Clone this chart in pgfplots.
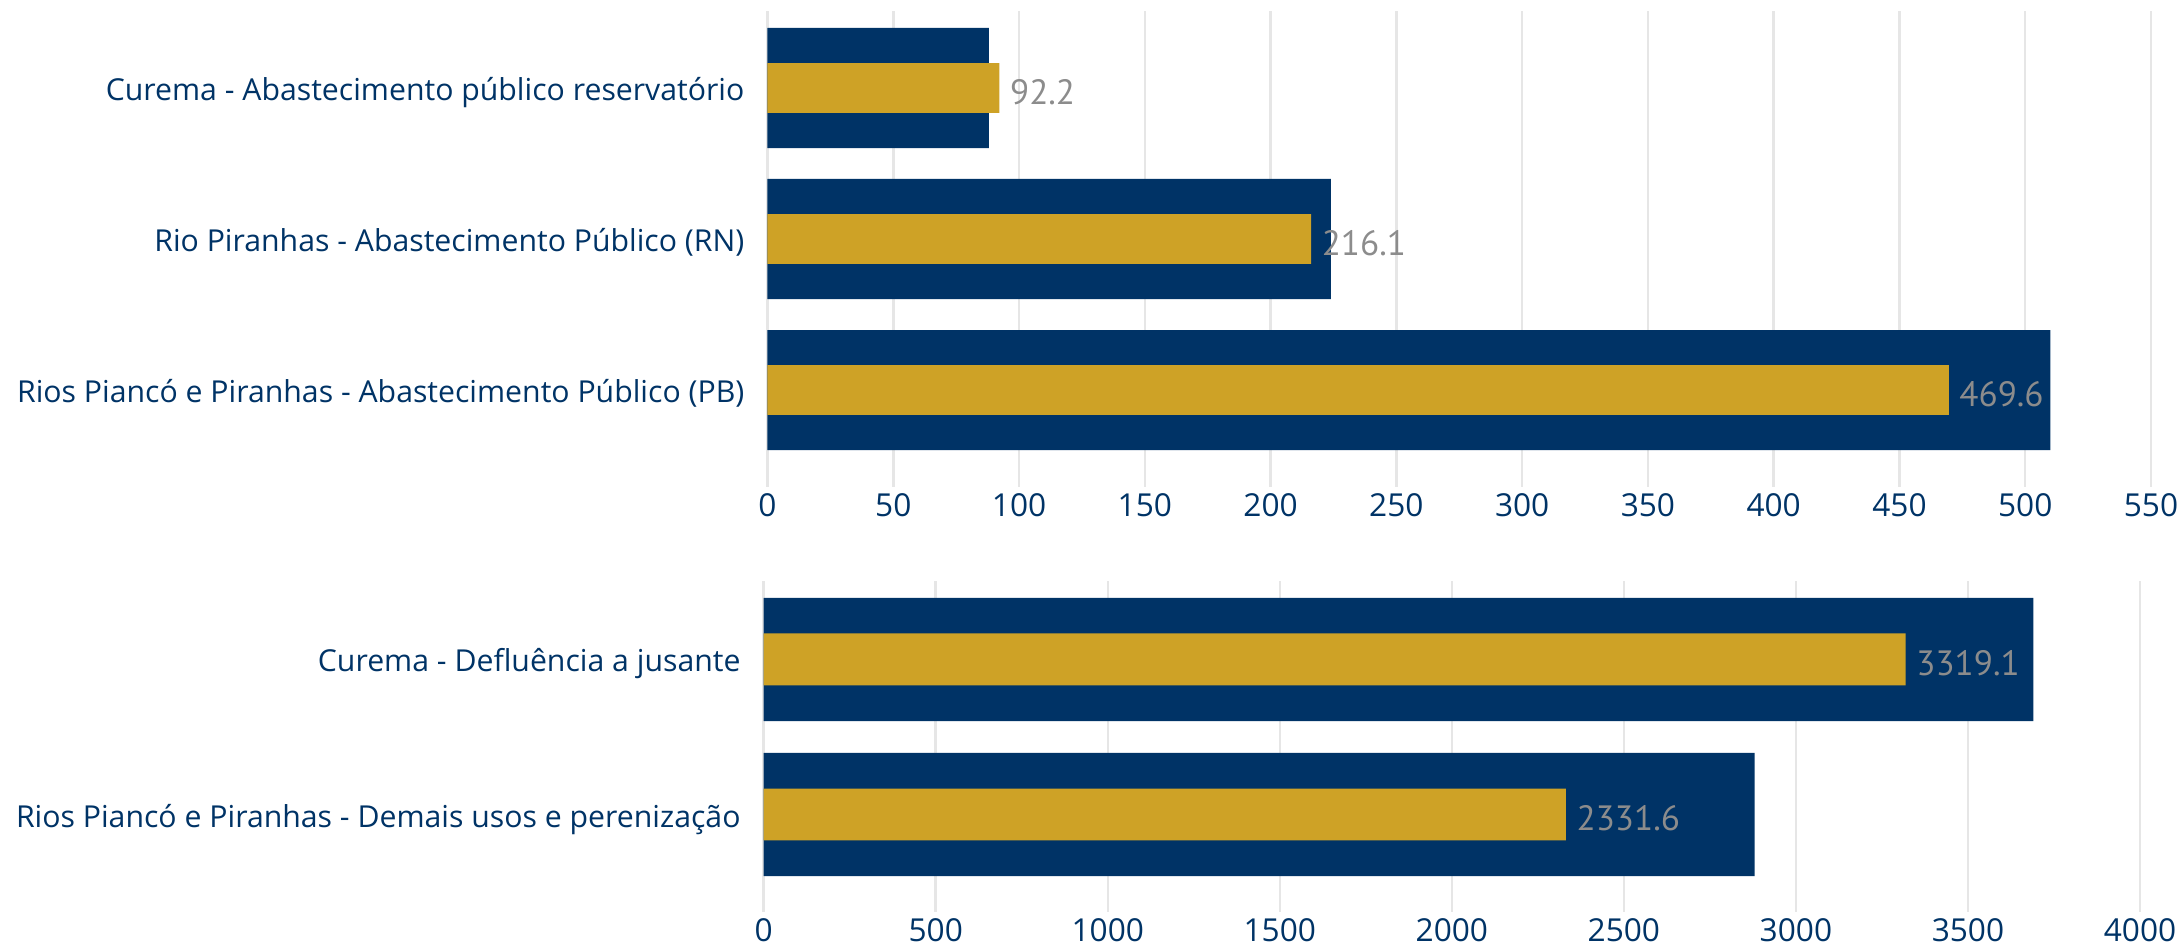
\documentclass[border=0pt]{standalone}
\usepackage{fontspec}
\setmainfont{Open Sans}
\newfontfamily\valfont{PT Sans}
\usepackage{pgfplots}
\pgfplotsset{compat=1.18}
\definecolor{navy}{HTML}{003366}
\definecolor{gold}{HTML}{CEA226}
\definecolor{gridgray}{HTML}{E6E6E6}
\definecolor{valgray}{HTML}{8C8C8C}

\pgfplotsset{
  bullet/.style={
    xbar, scale only axis, xmin=0,
    axis line style={draw=none},
    major tick length=0pt,
    xmajorgrids, grid style={gridgray, line width=0.25mm},
    y dir=reverse,
    bar shift=0pt,
    /pgf/number format/assume math mode=true,
    /pgf/number format/1000 sep={},
    tick label style={text=navy},
    xticklabel style={font=\fontsize{9}{10}\selectfont, anchor=north, inner sep=0pt, yshift=-0.6mm},
    yticklabel style={font=\fontsize{8.6}{10}\selectfont, anchor=base east, inner sep=0pt, xshift=-2.25mm, yshift=-0.357em},
  },
  vals/.style={
    nodes near coords={\pgfmathprintnumber[fixed,fixed zerofill,precision=1,1000 sep={},assume math mode=true]{\pgfplotspointmeta}},
    nodes near coords style={font=\valfont\fontsize{10}{10}\selectfont, text=valgray, anchor=base west, inner sep=0pt, xshift=1mm, yshift=-0.35em-0.4mm},
  },
}

\begin{document}
\begin{tikzpicture}
% upper panel: abastecimento publico
\begin{axis}[bullet,
    at={(76.75mm,45.83mm)}, anchor=south west,
    width=138.35mm, height=47.57mm,
    xmax=550, xtick={0,50,...,550},
    ymin=-0.51, ymax=2.64, ytick={0,1,2},
    yticklabels={Curema - Abastecimento público reservatório,
                 Rio Piranhas - Abastecimento Público (RN),
                 Rios Piancó e Piranhas - Abastecimento Público (PB)}]
\addplot[fill=navy, draw=none, bar width=0.795] coordinates {(88,0) (224,1) (510,2)};
\addplot[fill=gold, draw=none, bar width=0.33, vals] coordinates {(92.2,0) (216.1,1) (469.6,2)};
\end{axis}
% lower panel: defluencia e demais usos
\begin{axis}[bullet,
    at={(76.37mm,3.33mm)}, anchor=south west,
    width=137.63mm, height=33.07mm,
    xmax=4000, xtick={0,500,...,4000},
    ymin=-0.506, ymax=1.627, ytick={0,1},
    yticklabels={Curema - Defluência a jusante,
                 Rios Piancó e Piranhas - Demais usos e perenização}]
\addplot[fill=navy, draw=none, bar width=0.795] coordinates {(3690,0) (2880,1)};
\addplot[fill=gold, draw=none, bar width=0.335, vals] coordinates {(3319.1,0) (2331.6,1)};
\end{axis}
\pgfresetboundingbox
\useasboundingbox (0,0) rectangle (218.2mm,94.5mm);
\end{tikzpicture}
\end{document}
